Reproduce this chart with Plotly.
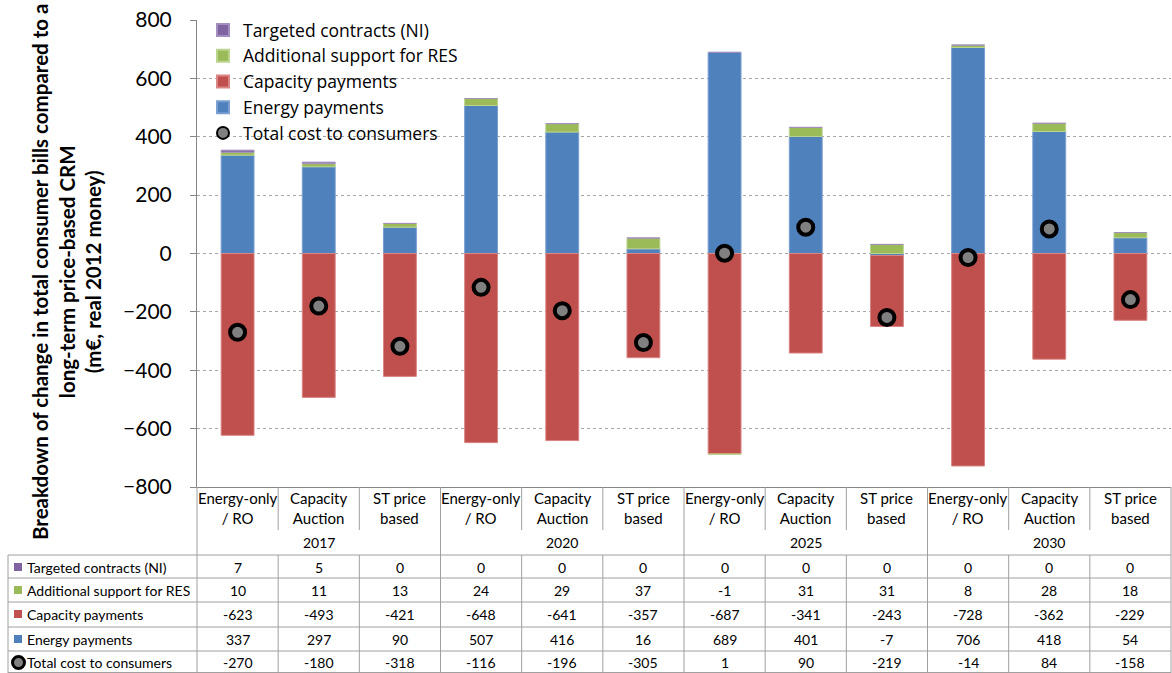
import plotly.graph_objects as go

W, H = 1172, 673

categories = ["Energy-only<br>/ RO", "Capacity<br>Auction", "ST price<br>based"] * 4
years = ["2017", "2020", "2025", "2030"]
targeted = [7, 5, 0, 0, 0, 0, 0, 0, 0, 0, 0, 0]
res = [10, 11, 13, 24, 29, 37, -1, 31, 31, 8, 28, 18]
capacity = [-623, -493, -421, -648, -641, -357, -687, -341, -243, -728, -362, -229]
energy = [337, 297, 90, 507, 416, 16, 689, 401, -7, 706, 418, 54]
total = [-270, -180, -318, -116, -196, -305, 1, 90, -219, -14, 84, -158]
y_ticks = [800, 600, 400, 200, 0, -200, -400, -600, -800]

C_PURPLE = "#8064A2"
C_GREEN = "#9BBB59"
C_RED = "#C0504D"
C_BLUE = "#4F81BD"
FONT = "Lato"

xs = list(range(len(categories)))

# layout in pixels
X0, X1 = 197, 1171
Y_TOP, Y_BOT = 20, 487
def py(p):
    return 1 - p / H
def px(p):
    return p / W

fig = go.Figure()
bw = 0.405
fig.add_trace(go.Bar(x=xs, y=energy, name="Energy payments", marker=dict(color=C_BLUE, line=dict(color="#7A9FD0", width=1)), width=bw, legendrank=4))
fig.add_trace(go.Bar(x=xs, y=capacity, name="Capacity payments", marker=dict(color=C_RED, line=dict(color="#D98684", width=1)), width=bw, legendrank=3))
fig.add_trace(go.Bar(x=xs, y=res, name="Additional support for RES", marker=dict(color=C_GREEN, line=dict(color="#BCD48E", width=1)), width=bw, legendrank=2))
fig.add_trace(go.Bar(x=xs, y=targeted, name="Targeted contracts (NI)", marker=dict(color=C_PURPLE, line=dict(color="#A28FBF", width=1)), width=bw, legendrank=1))
fig.add_trace(go.Scatter(x=xs, y=total, mode="markers", name="Total cost to consumers",
                         marker=dict(symbol="circle", size=15, color="#808080", line=dict(color="black", width=4)),
                         legendrank=5))

shapes = []
annotations = []
LINE = dict(color="#A0A0A0", width=1)

# horizontal table lines
for yy in [555, 578, 602, 627, 651, 672.5]:
    shapes.append(dict(type="line", xref="paper", yref="paper", x0=px(8), x1=px(X1), y0=py(yy), y1=py(yy), line=LINE))
# left border of table
shapes.append(dict(type="line", xref="paper", yref="paper", x0=px(8), x1=px(8), y0=py(555), y1=py(673), line=LINE))
# vertical separators
colw = (X1 - X0) / 12
for k in range(13):
    xx = X0 + k * colw
    if k % 3 == 0:
        shapes.append(dict(type="line", xref="paper", yref="paper", x0=px(xx), x1=px(xx), y0=py(Y_BOT), y1=py(673), line=LINE))
    else:
        shapes.append(dict(type="line", xref="paper", yref="paper", x0=px(xx), x1=px(xx), y0=py(Y_BOT), y1=py(530), line=LINE))
        shapes.append(dict(type="line", xref="paper", yref="paper", x0=px(xx), x1=px(xx), y0=py(555), y1=py(673), line=LINE))

TFONT = dict(family=FONT, size=14, color="black")
CFONT = dict(family=FONT, size=15, color="black")
# category labels
for i, c in enumerate(categories):
    annotations.append(dict(x=i, y=py(508), xref="x", yref="paper", text=c, showarrow=False,
                            xanchor="center", yanchor="middle", font=CFONT, align="center"))
for g, yr in enumerate(years):
    annotations.append(dict(x=3 * g + 1, y=py(542), xref="x", yref="paper", text=yr, showarrow=False,
                            xanchor="center", yanchor="middle", font=TFONT))

rows = [("Targeted contracts (NI)", targeted, C_PURPLE, "sq"),
        ("Additional support for RES", res, C_GREEN, "sq"),
        ("Capacity payments", capacity, C_RED, "sq"),
        ("Energy payments", energy, C_BLUE, "sq"),
        ("Total cost to consumers", total, None, "circ")]
row_centers = [567, 590, 614, 639, 662.5]
for (label, vals, col, kind), yc in zip(rows, row_centers):
    if kind == "sq":
        shapes.append(dict(type="rect", xref="paper", yref="paper", x0=px(14), x1=px(22), y0=py(yc - 4), y1=py(yc + 4),
                           fillcolor=col, line=dict(width=0)))
    else:
        shapes.append(dict(type="circle", xref="paper", yref="paper", x0=px(12.5), x1=px(24.5), y0=py(yc - 6), y1=py(yc + 6),
                           fillcolor="#808080", line=dict(color="black", width=3)))
    annotations.append(dict(x=px(25), y=py(yc), xref="paper", yref="paper", text=label, showarrow=False,
                            xanchor="left", yanchor="middle", font=TFONT))
    for i, v in enumerate(vals):
        annotations.append(dict(x=i, y=py(yc), xref="x", yref="paper", text=str(v), showarrow=False,
                                xanchor="center", yanchor="middle", font=TFONT))

# y-axis title
annotations.append(dict(x=px(66), y=py(272), xref="paper", yref="paper", textangle=-90, showarrow=False,
                        xanchor="center", yanchor="middle",
                        text="<b>Breakdown of change in total consumer bills compared to a<br>long-term price-based CRM<br>(m€, real 2012 money)</b>",
                        font=dict(family=FONT, size=20.5, color="black"), align="center"))

fig.update_layout(
    width=W, height=H,
    margin=dict(l=0, r=0, t=0, b=0, pad=0),
    paper_bgcolor="white", plot_bgcolor="white",
    barmode="relative",
    showlegend=True,
    legend=dict(x=px(203), y=py(12), xanchor="left", yanchor="top", bgcolor="rgba(0,0,0,0)",
                font=dict(family="Open Sans", size=17.5, color="black"), tracegroupgap=0, itemsizing="constant"),
    xaxis=dict(domain=[px(X0), px(X1)], range=[-0.5, 11.5], showticklabels=False, showgrid=False,
               zeroline=False, showline=True, linecolor="#868686", linewidth=1, automargin=False, fixedrange=True),
    yaxis=dict(domain=[py(Y_BOT), py(Y_TOP)], range=[-800, 800], tickvals=y_ticks,
               showgrid=True, gridcolor="#A6A6A6", griddash="dot", gridwidth=1,
               zeroline=False, showline=True, linecolor="#868686", linewidth=1,
               ticks="outside", ticklen=6, tickcolor="#868686", automargin=False,
               ticklabelstandoff=14,
               tickfont=dict(family=FONT, size=21, color="black")),
    shapes=shapes,
    annotations=annotations,
)

fig.write_html("out.html", config={"displayModeBar": False},
               post_script="document.body.style.margin='0';document.body.style.overflow='hidden';")
